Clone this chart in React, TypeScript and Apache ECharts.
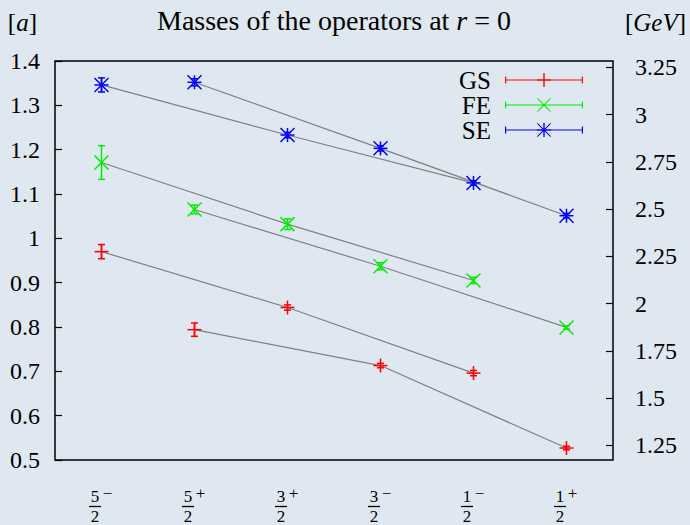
import React, { useEffect, useRef } from 'react';
import * as echarts from 'echarts';

const CATEGORIES = ['5/2-', '5/2+', '3/2+', '3/2-', '1/2-', '1/2+'];
const GS_VALUES = [0.970, 0.794, 0.844, 0.713, 0.696, 0.527];
const GS_ERRORS = [0.016, 0.015, 0.006, 0.005, 0.006, 0.004];
const FE_VALUES = [1.171, 1.065, 1.032, 0.937, 0.905, 0.799];
const FE_ERRORS = [0.038, 0.010, 0.012, 0.008, 0.007, 0.004];
const SE_VALUES = [1.346, 1.352, 1.233, 1.203, 1.125, 1.051];
const SE_ERRORS = [0.016, 0.008, 0.006, 0.006, 0.005, 0.005];
const CHAIN_A = [0, 2, 4];
const CHAIN_B = [1, 3, 5];
const GEV_TICKS = [1.25, 1.5, 1.75, 2, 2.25, 2.5, 2.75, 3, 3.25];
const A_MIN = 0.5;
const A_MAX = 1.4;
const A_STEP = 0.1;
const A_INV_GEV = 2.345;

const FONT = '"Liberation Serif", "Times New Roman", serif';
const COLORS = { GS: '#ff0000', FE: '#00ee00', SE: '#0000ff' };

const BASE_ICON = 'M0,6.4h78v1.2h-78z M0,3.5h1.2v7h-1.2z M76.8,3.5h1.2v7h-1.2z';
const PLUS_ICON = 'M38.3,0h1.4v14h-1.4z M32,6.2h14v1.6h-14z';
const X_ICON = 'M32,0.7L32.7,0L46,13.3L45.3,14Z M45.3,0L46,0.7L32.7,14L32,13.3Z';
const ICONS: Record<string, string> = {
  GS: 'path://' + BASE_ICON + ' ' + PLUS_ICON,
  FE: 'path://' + BASE_ICON + ' ' + X_ICON,
  SE: 'path://' + BASE_ICON + ' ' + PLUS_ICON + ' ' + X_ICON,
};

function makeRender(kind: 'plus' | 'cross' | 'star') {
  return (params: any, api: any) => {
    const x = api.value(0);
    const v = api.value(1);
    const e = api.value(2);
    const c = api.coord([x, v]);
    const t = api.coord([x, v + e]);
    const b = api.coord([x, v - e]);
    const color = api.visual('color');
    const st = { stroke: color, lineWidth: 1.5 };
    const cap = 3.5;
    const m = 7;
    const children: any[] = [
      { type: 'line', shape: { x1: c[0], y1: t[1], x2: c[0], y2: b[1] }, style: st },
      { type: 'line', shape: { x1: c[0] - cap, y1: t[1], x2: c[0] + cap, y2: t[1] }, style: st },
      { type: 'line', shape: { x1: c[0] - cap, y1: b[1], x2: c[0] + cap, y2: b[1] }, style: st },
    ];
    if (kind === 'plus' || kind === 'star') {
      children.push({ type: 'line', shape: { x1: c[0] - m, y1: c[1], x2: c[0] + m, y2: c[1] }, style: st });
      children.push({ type: 'line', shape: { x1: c[0], y1: c[1] - m, x2: c[0], y2: c[1] + m }, style: st });
    }
    if (kind === 'cross' || kind === 'star') {
      children.push({ type: 'line', shape: { x1: c[0] - m, y1: c[1] - m, x2: c[0] + m, y2: c[1] + m }, style: st });
      children.push({ type: 'line', shape: { x1: c[0] - m, y1: c[1] + m, x2: c[0] + m, y2: c[1] - m }, style: st });
    }
    return { type: 'group', children };
  };
}

function chainData(values: number[], chain: number[]) {
  return values.map((v, i) => (chain.includes(i) ? v : '-'));
}

function errSeries(name: string, values: number[], errors: number[], kind: 'plus' | 'cross' | 'star') {
  return {
    type: 'custom',
    name,
    xAxisIndex: 0,
    yAxisIndex: 0,
    z: 5,
    itemStyle: { color: (COLORS as any)[name] },
    renderItem: makeRender(kind),
    data: values.map((v, i) => [i, v, errors[i]]),
  };
}

function lineSeries(values: number[], chain: number[]) {
  return {
    type: 'line',
    xAxisIndex: 0,
    yAxisIndex: 0,
    z: 2,
    silent: true,
    symbol: 'none',
    connectNulls: true,
    lineStyle: { color: '#808080', width: 1.2 },
    data: chainData(values, chain),
  };
}

export default function App() {
  const ref = useRef<HTMLDivElement>(null);
  useEffect(() => {
    if (!ref.current) return;
    const chart = echarts.init(ref.current, null, { renderer: 'svg' });
    const option: any = {
      animation: false,
      backgroundColor: '#dfe8f1',
      textStyle: { fontFamily: FONT, color: '#000' },
      title: {
        text: 'Masses of the operators at {i|r} = 0',
        left: 152,
        top: 3,
        padding: [5, 5, 5, 5],
        textStyle: {
          fontFamily: FONT,
          fontSize: 28,
          fontWeight: 'normal',
          color: '#000',
          lineHeight: 24,
          rich: { i: { fontFamily: FONT, fontSize: 28, fontStyle: 'italic', color: '#000', lineHeight: 24 } },
        },
      },
      legend: {
        data: ['GS', 'FE', 'SE'].map((n) => ({ name: n, icon: ICONS[n] })),
        orient: 'vertical',
        right: 107,
        top: 67.5,
        padding: 0,
        align: 'right',
        itemWidth: 78,
        itemHeight: 14,
        itemGap: 0,
        selectedMode: false,
        textStyle: { fontFamily: FONT, fontSize: 25, color: '#000', lineHeight: 25, padding: [0, 9, 0, 0] },
      },
      grid: {
        left: 55,
        right: 77,
        top: 61,
        bottom: 62,
        show: true,
        borderColor: '#000',
        borderWidth: 1.5,
        backgroundColor: 'transparent',
      },
      xAxis: {
        type: 'category',
        data: CATEGORIES,
        boundaryGap: true,
        axisLine: { show: false },
        axisTick: { show: false },
        splitLine: { show: false },
        axisLabel: {
          margin: 28,
          interval: 0,
          formatter: (val: string) => {
            const [n, rest] = val.split('/');
            const d = rest[0];
            const s = rest[1] === '-' ? '\u2212' : '+';
            return `{num|${n}}{sup|${s}}\n{bar| }{gap| }\n{den|${d}}{gap2| }`;
          },
          rich: {
            num: { fontFamily: FONT, fontSize: 17, width: 12, align: 'center', lineHeight: 17, color: '#000' },
            sup: { fontFamily: FONT, fontSize: 17, width: 13, align: 'left', lineHeight: 17, padding: [0, 0, 6, 0], color: '#000' },
            bar: { width: 12, height: 1.3, lineHeight: 3, fontSize: 3, backgroundColor: '#000' },
            gap: { width: 13, height: 1.3, lineHeight: 3, fontSize: 3 },
            den: { fontFamily: FONT, fontSize: 17, width: 12, align: 'center', lineHeight: 17, color: '#000' },
            gap2: { fontFamily: FONT, fontSize: 17, width: 13, lineHeight: 17 },
          },
        },
      },
      yAxis: [
        {
          type: 'value',
          position: 'left',
          min: A_MIN,
          max: A_MAX,
          interval: A_STEP,
          name: '[{i|a}]',
          nameLocation: 'end',
          nameGap: 27,
          nameTextStyle: {
            fontFamily: FONT,
            fontSize: 25,
            color: '#000',
            lineHeight: 24,
            align: 'right',
            padding: [0, 18, 0, 0],
            rich: { i: { fontFamily: FONT, fontSize: 25, fontStyle: 'italic', color: '#000', lineHeight: 24 } },
          },
          axisLine: { show: false },
          axisTick: { show: true, inside: true, length: 7, lineStyle: { color: '#000', width: 1.2 } },
          splitLine: { show: false },
          axisLabel: { fontFamily: FONT, fontSize: 24, color: '#000', margin: 15 },
        },
        {
          type: 'value',
          position: 'right',
          min: A_MIN * A_INV_GEV,
          max: A_MAX * A_INV_GEV,
          name: '[{i|GeV}]',
          nameLocation: 'end',
          nameGap: 27,
          nameTextStyle: {
            fontFamily: FONT,
            fontSize: 25,
            color: '#000',
            lineHeight: 24,
            align: 'left',
            padding: [0, 0, 0, 12],
            rich: { i: { fontFamily: FONT, fontSize: 25, fontStyle: 'italic', color: '#000', lineHeight: 24 } },
          },
          axisLine: { show: false },
          axisTick: {
            show: true,
            inside: true,
            length: 7,
            customValues: GEV_TICKS,
            lineStyle: { color: '#000', width: 1.2 },
          },
          splitLine: { show: false },
          axisLabel: { fontFamily: FONT, fontSize: 24, color: '#000', margin: 22, customValues: GEV_TICKS },
        },
      ],
      series: [
        lineSeries(GS_VALUES, CHAIN_A),
        lineSeries(GS_VALUES, CHAIN_B),
        lineSeries(FE_VALUES, CHAIN_A),
        lineSeries(FE_VALUES, CHAIN_B),
        lineSeries(SE_VALUES, CHAIN_A),
        lineSeries(SE_VALUES, CHAIN_B),
        errSeries('GS', GS_VALUES, GS_ERRORS, 'plus'),
        errSeries('FE', FE_VALUES, FE_ERRORS, 'cross'),
        errSeries('SE', SE_VALUES, SE_ERRORS, 'star'),
      ],
    };
    chart.setOption(option);
    return () => chart.dispose();
  }, []);
  return (
    <div
      ref={ref}
      style={{ position: 'absolute', left: 0, top: 0, width: 690, height: 525 }}
    />
  );
}
